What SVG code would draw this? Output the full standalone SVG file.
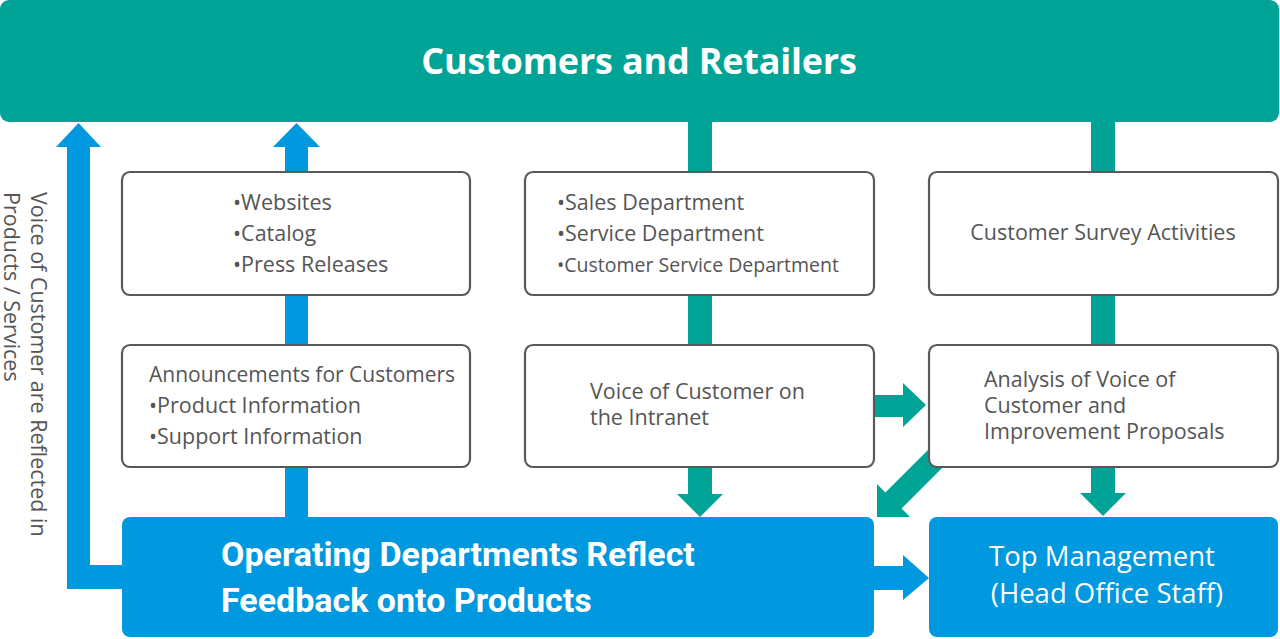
<svg xmlns="http://www.w3.org/2000/svg" width="1280" height="639" viewBox="0 0 1280 639">
<style>
.teal{fill:#00a497}
.blue{fill:#0098df}
.box{fill:#fff;stroke:#595959;stroke-width:2.2}
.t{font-family:"Open Sans","Noto Sans",sans-serif;font-size:21.5px;fill:#555}
.w{font-family:"Open Sans","Noto Sans",sans-serif;fill:#fff}
.wb{font-family:Roboto,"Open Sans",sans-serif;fill:#fff;font-weight:bold}
</style>
<rect width="1280" height="639" fill="#fff"/>
<g id="connectors">
  <polygon class="blue" points="67,589 67,147 56,147 78.5,123 101,147 90,147 90,565 130,565 130,589"/>
  <polygon class="blue" points="285,525 285,147 273,147 296.5,123 320,147 308,147 308,525"/>
  <rect class="teal" x="688" y="115" width="24" height="380"/>
  <polygon class="teal" points="677,494 723,494 700,517"/>
  <rect class="teal" x="1091" y="115" width="24" height="380"/>
  <polygon class="teal" points="1080,493 1126,493 1103,516"/>
  <polygon class="teal" points="870,395 903,395 903,383 926,405 903,427 903,417 870,417"/>
  <polygon class="teal" points="877,517 877,484 885.4,492.4 934,444 950,460 901.6,508.6 910,517"/>
  <polygon class="blue" points="868,566 903,566 903,555 929,578 903,600 903,590 868,590"/>
</g>
<g id="customers">
  <rect class="teal" x="0" y="0" width="1279" height="122" rx="9"/>
  <text class="w" x="639" y="74" font-size="36" font-weight="bold" letter-spacing="-0.2" text-anchor="middle">Customers and Retailers</text>
</g>
<g id="voice-label">
  <text class="t" font-size="22" transform="translate(31,192) rotate(90)">Voice of Customer are Reflected in</text>
  <text class="t" font-size="22" transform="translate(4,192) rotate(90)">Products / Services</text>
</g>
<g id="media">
  <rect class="box" x="122" y="172" width="348" height="123" rx="8"/>
  <text class="t"><tspan x="233" y="210">•Websites</tspan><tspan x="233" y="241">•Catalog</tspan><tspan x="233" y="272">•Press Releases</tspan></text>
</g>
<g id="announcements">
  <rect class="box" x="122" y="345" width="348" height="122" rx="8"/>
  <text class="t"><tspan x="149" y="382" font-size="21">Announcements for Customers</tspan><tspan x="149" y="413">•Product Information</tspan><tspan x="149" y="444">•Support Information</tspan></text>
</g>
<g id="departments">
  <rect class="box" x="525" y="172" width="349" height="123" rx="8"/>
  <text class="t"><tspan x="557" y="210">•Sales Department</tspan><tspan x="557" y="241">•Service Department</tspan><tspan x="557" y="272" font-size="19.5">•Customer Service Department</tspan></text>
</g>
<g id="intranet">
  <rect class="box" x="525" y="345" width="349" height="122" rx="8"/>
  <text class="t" font-size="21.5"><tspan x="590" y="399">Voice of Customer on</tspan><tspan x="590" y="425">the Intranet</tspan></text>
</g>
<g id="survey">
  <rect class="box" x="929" y="172" width="349" height="123" rx="8"/>
  <text class="t" font-size="22" x="1103" y="240" text-anchor="middle">Customer Survey Activities</text>
</g>
<g id="analysis">
  <rect class="box" x="929" y="345" width="349" height="122" rx="8"/>
  <text class="t" font-size="21"><tspan x="984" y="387">Analysis of Voice of</tspan><tspan x="984" y="413">Customer and</tspan><tspan x="984" y="439">Improvement Proposals</tspan></text>
</g>
<g id="operating">
  <rect class="blue" x="122" y="517" width="752" height="120" rx="8"/>
  <text class="wb" font-size="34"><tspan x="221" y="566">Operating Departments Reflect</tspan><tspan x="221" y="612">Feedback onto Products</tspan></text>
</g>
<g id="top-management">
  <rect class="blue" x="929" y="517" width="349" height="120" rx="8"/>
  <text class="w" font-size="27.5" text-anchor="middle"><tspan x="1102" y="566">Top Management</tspan><tspan x="1107" y="603">(Head Office Staff)</tspan></text>
</g>
</svg>
